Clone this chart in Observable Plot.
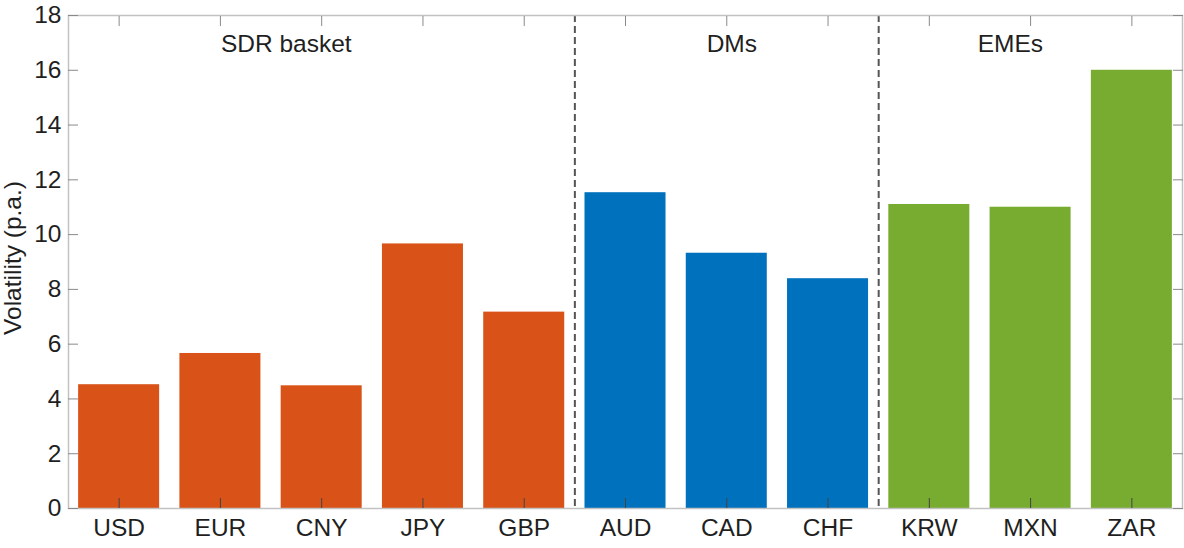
<!DOCTYPE html>
<html>
<head>
<meta charset="utf-8">
<script src="https://cdn.jsdelivr.net/npm/d3@7"></script>
<script src="https://cdn.jsdelivr.net/npm/@observablehq/plot@0.6"></script>
<style>
  html, body { margin: 0; padding: 0; background: #fff; }
  #chart svg { display: block; }
</style>
</head>
<body>
<div id="chart"></div>
<script>
const currencies = ["USD", "EUR", "CNY", "JPY", "GBP", "AUD", "CAD", "CHF", "KRW", "MXN", "ZAR"];
const volatility = [4.52, 5.66, 4.48, 9.66, 7.17, 11.53, 9.32, 8.39, 11.1, 11.0, 16.0];
const groupNames = ["SDR basket", "DMs", "EMEs"];
const groupSizes = [5, 3, 3];
const groupColors = ["#D95319", "#0072BD", "#77AC30"];
const groupLabelX = [1.65, 6.05, 8.8];
const groupLabelY = 16.95;
const yTicks = [0, 2, 4, 6, 8, 10, 12, 14, 16, 18];

// Build table
const rows = [];
let idx = 0;
groupSizes.forEach((n, g) => {
  for (let k = 0; k < n; k++, idx++) {
    rows.push({i: idx, name: currencies[idx], value: volatility[idx], group: groupNames[g]});
  }
});
// separators between groups
const separators = [];
let acc = 0;
for (let g = 0; g < groupSizes.length - 1; g++) { acc += groupSizes[g]; separators.push(acc - 0.5); }
const labels = groupNames.map((name, g) => ({name, x: groupLabelX[g], y: groupLabelY}));

const font = "'Liberation Sans', Arial, Helvetica, sans-serif";
const ink = "#1f1f1f";
const boxColor = "#c2c2c2";
const fs = 24.5;

const chart = Plot.plot({
  width: 1184,
  height: 548,
  marginLeft: 68,
  marginRight: 2,
  marginTop: 15,
  marginBottom: 40,
  style: {fontFamily: font, fontSize: fs + "px", color: ink, background: "#fff"},
  x: {type: "linear", domain: [-0.5, currencies.length - 0.5]},
  y: {domain: [0, 18]},
  color: {domain: groupNames, range: groupColors},
  marks: [
    Plot.rectY(rows, {x1: d => d.i - 0.4, x2: d => d.i + 0.4, y: "value", fill: "group"}),
    Plot.ruleX(separators, {stroke: "#555", strokeWidth: 2, strokeDasharray: "7,4"}),
    Plot.text(labels, {x: "x", y: "y", text: "name", fill: ink, fontSize: fs}),
    Plot.frame({stroke: boxColor, strokeWidth: 1.5}),
    // labeled axes
    Plot.axisY({ticks: yTicks, tickSize: 0, tickPadding: 7, label: null, fill: ink, fontSize: fs}),
    Plot.axisX({ticks: rows.map(d => d.i), tickSize: 0, tickPadding: 10, tickFormat: i => currencies[i], label: null, fill: ink, fontSize: fs}),
    // inward ticks
    Plot.axisY({anchor: "left", ticks: yTicks, tickSize: -10, tickFormat: () => "", label: null, stroke: "#8a8a8a"}),
    Plot.axisY({anchor: "right", ticks: yTicks, tickSize: -10, tickFormat: () => "", label: null, stroke: "#8a8a8a"}),
    Plot.axisX({anchor: "bottom", ticks: rows.map(d => d.i), tickSize: -10, tickFormat: () => "", label: null, stroke: "#444"}),
    Plot.axisX({anchor: "top", ticks: rows.map(d => d.i), tickSize: -10, tickFormat: () => "", label: null, stroke: "#8a8a8a"})
  ]
});

// y-axis title (added as real text in the SVG)
const svg = d3.select(chart);
svg.append("text")
  .attr("transform", `translate(15, 258) rotate(-90)`)
  .attr("text-anchor", "middle")
  .attr("dominant-baseline", "middle")
  .attr("fill", ink)
  .style("font-family", font)
  .style("font-size", fs + "px")
  .text("Volatility (p.a.)");

document.getElementById("chart").appendChild(chart);
</script>
</body>
</html>
